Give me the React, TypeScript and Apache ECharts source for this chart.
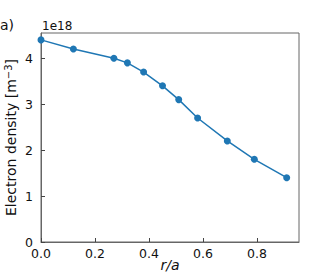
import React, { useEffect, useRef } from "react";
import * as echarts from "echarts";

// r/a positions and electron density (units of 1e18 m^-3)
const rOverA = [0, 0.12, 0.27, 0.32, 0.38, 0.45, 0.51, 0.58, 0.69, 0.79, 0.91];
const density = [4.4, 4.2, 4.0, 3.9, 3.7, 3.4, 3.1, 2.7, 2.2, 1.8, 1.4];
const xTicks = [0, 0.2, 0.4, 0.6, 0.8];
const yTicks = [0, 1, 2, 3, 4];
const offsetLabel = "1e18";
const panelLabel = "a)";

const FONT = "DejaVu Sans";

export default function App() {
  const ref = useRef<HTMLDivElement>(null);
  useEffect(() => {
    const chart = echarts.init(ref.current!, null, { renderer: "svg" });
    const isTick = (v: number, arr: number[]) => arr.some((t) => Math.abs(t - v) < 1e-9);
    chart.setOption({
      animation: false,
      backgroundColor: "#fff",
      grid: {
        left: 41,
        right: 33,
        top: 33,
        bottom: 35,
        show: true,
        borderColor: "#666",
        borderWidth: 1,
        containLabel: false,
        outerBoundsMode: "none",
      },
      graphic: [
        {
          type: "text",
          left: 0,
          top: 18,
          style: { text: panelLabel, font: `14px '${FONT}'`, fill: "#111" },
        },
        {
          type: "text",
          left: 42,
          top: 20,
          style: { text: offsetLabel, font: `12px '${FONT}'`, fill: "#111" },
        },
      ],
      xAxis: {
        type: "value",
        min: 0,
        max: 0.9555,
        interval: 0.2,
        name: "{i|r/a}",
        nameLocation: "middle",
        nameGap: 16,
        nameMoveOverlap: false,
        nameTextStyle: {
          rich: { i: { fontFamily: FONT, fontSize: 14, fontStyle: "italic", color: "#111" } },
        },
        axisLine: { show: true, lineStyle: { color: "#666", width: 1 } },
        axisTick: { show: true, inside: true, length: 4, lineStyle: { color: "#444", width: 1 } },
        axisLabel: {
          fontFamily: FONT,
          fontSize: 12.5,
          color: "#111",
          margin: 5,
          showMaxLabel: false,
          formatter: (v: number) => (isTick(v, xTicks) ? v.toFixed(1) : ""),
        },
        splitLine: { show: false },
      },
      yAxis: {
        type: "value",
        min: 0,
        max: 4.55,
        interval: 1,
        name: "Electron density [m{s|−3}]",
        nameLocation: "middle",
        nameGap: 22,
        nameRotate: 90,
        nameMoveOverlap: false,
        nameTextStyle: {
          fontFamily: FONT,
          fontSize: 14,
          color: "#111",
          rich: {
            s: { fontFamily: FONT, fontSize: 10, color: "#111", verticalAlign: "bottom", padding: [0, 0, 6, 0] },
          },
        },
        axisLine: { show: true, lineStyle: { color: "#666", width: 1 } },
        axisTick: { show: true, inside: true, length: 4, lineStyle: { color: "#444", width: 1 } },
        axisLabel: {
          fontFamily: FONT,
          fontSize: 12.5,
          color: "#111",
          margin: 8,
          showMaxLabel: false,
          formatter: (v: number) => (isTick(v, yTicks) ? String(Math.round(v)) : ""),
        },
        splitLine: { show: false },
      },
      series: [
        {
          type: "line",
          data: rOverA.map((x, i) => [x, density[i]]),
          symbol: "circle",
          symbolSize: 7,
          lineStyle: { color: "#1f77b4", width: 1.5 },
          itemStyle: { color: "#1f77b4" },
          clip: false,
        },
      ],
    });
    return () => chart.dispose();
  }, []);
  return (
    <div
      ref={ref}
      style={{ position: "fixed", left: 0, top: 0, width: 332, height: 277 }}
    />
  );
}
